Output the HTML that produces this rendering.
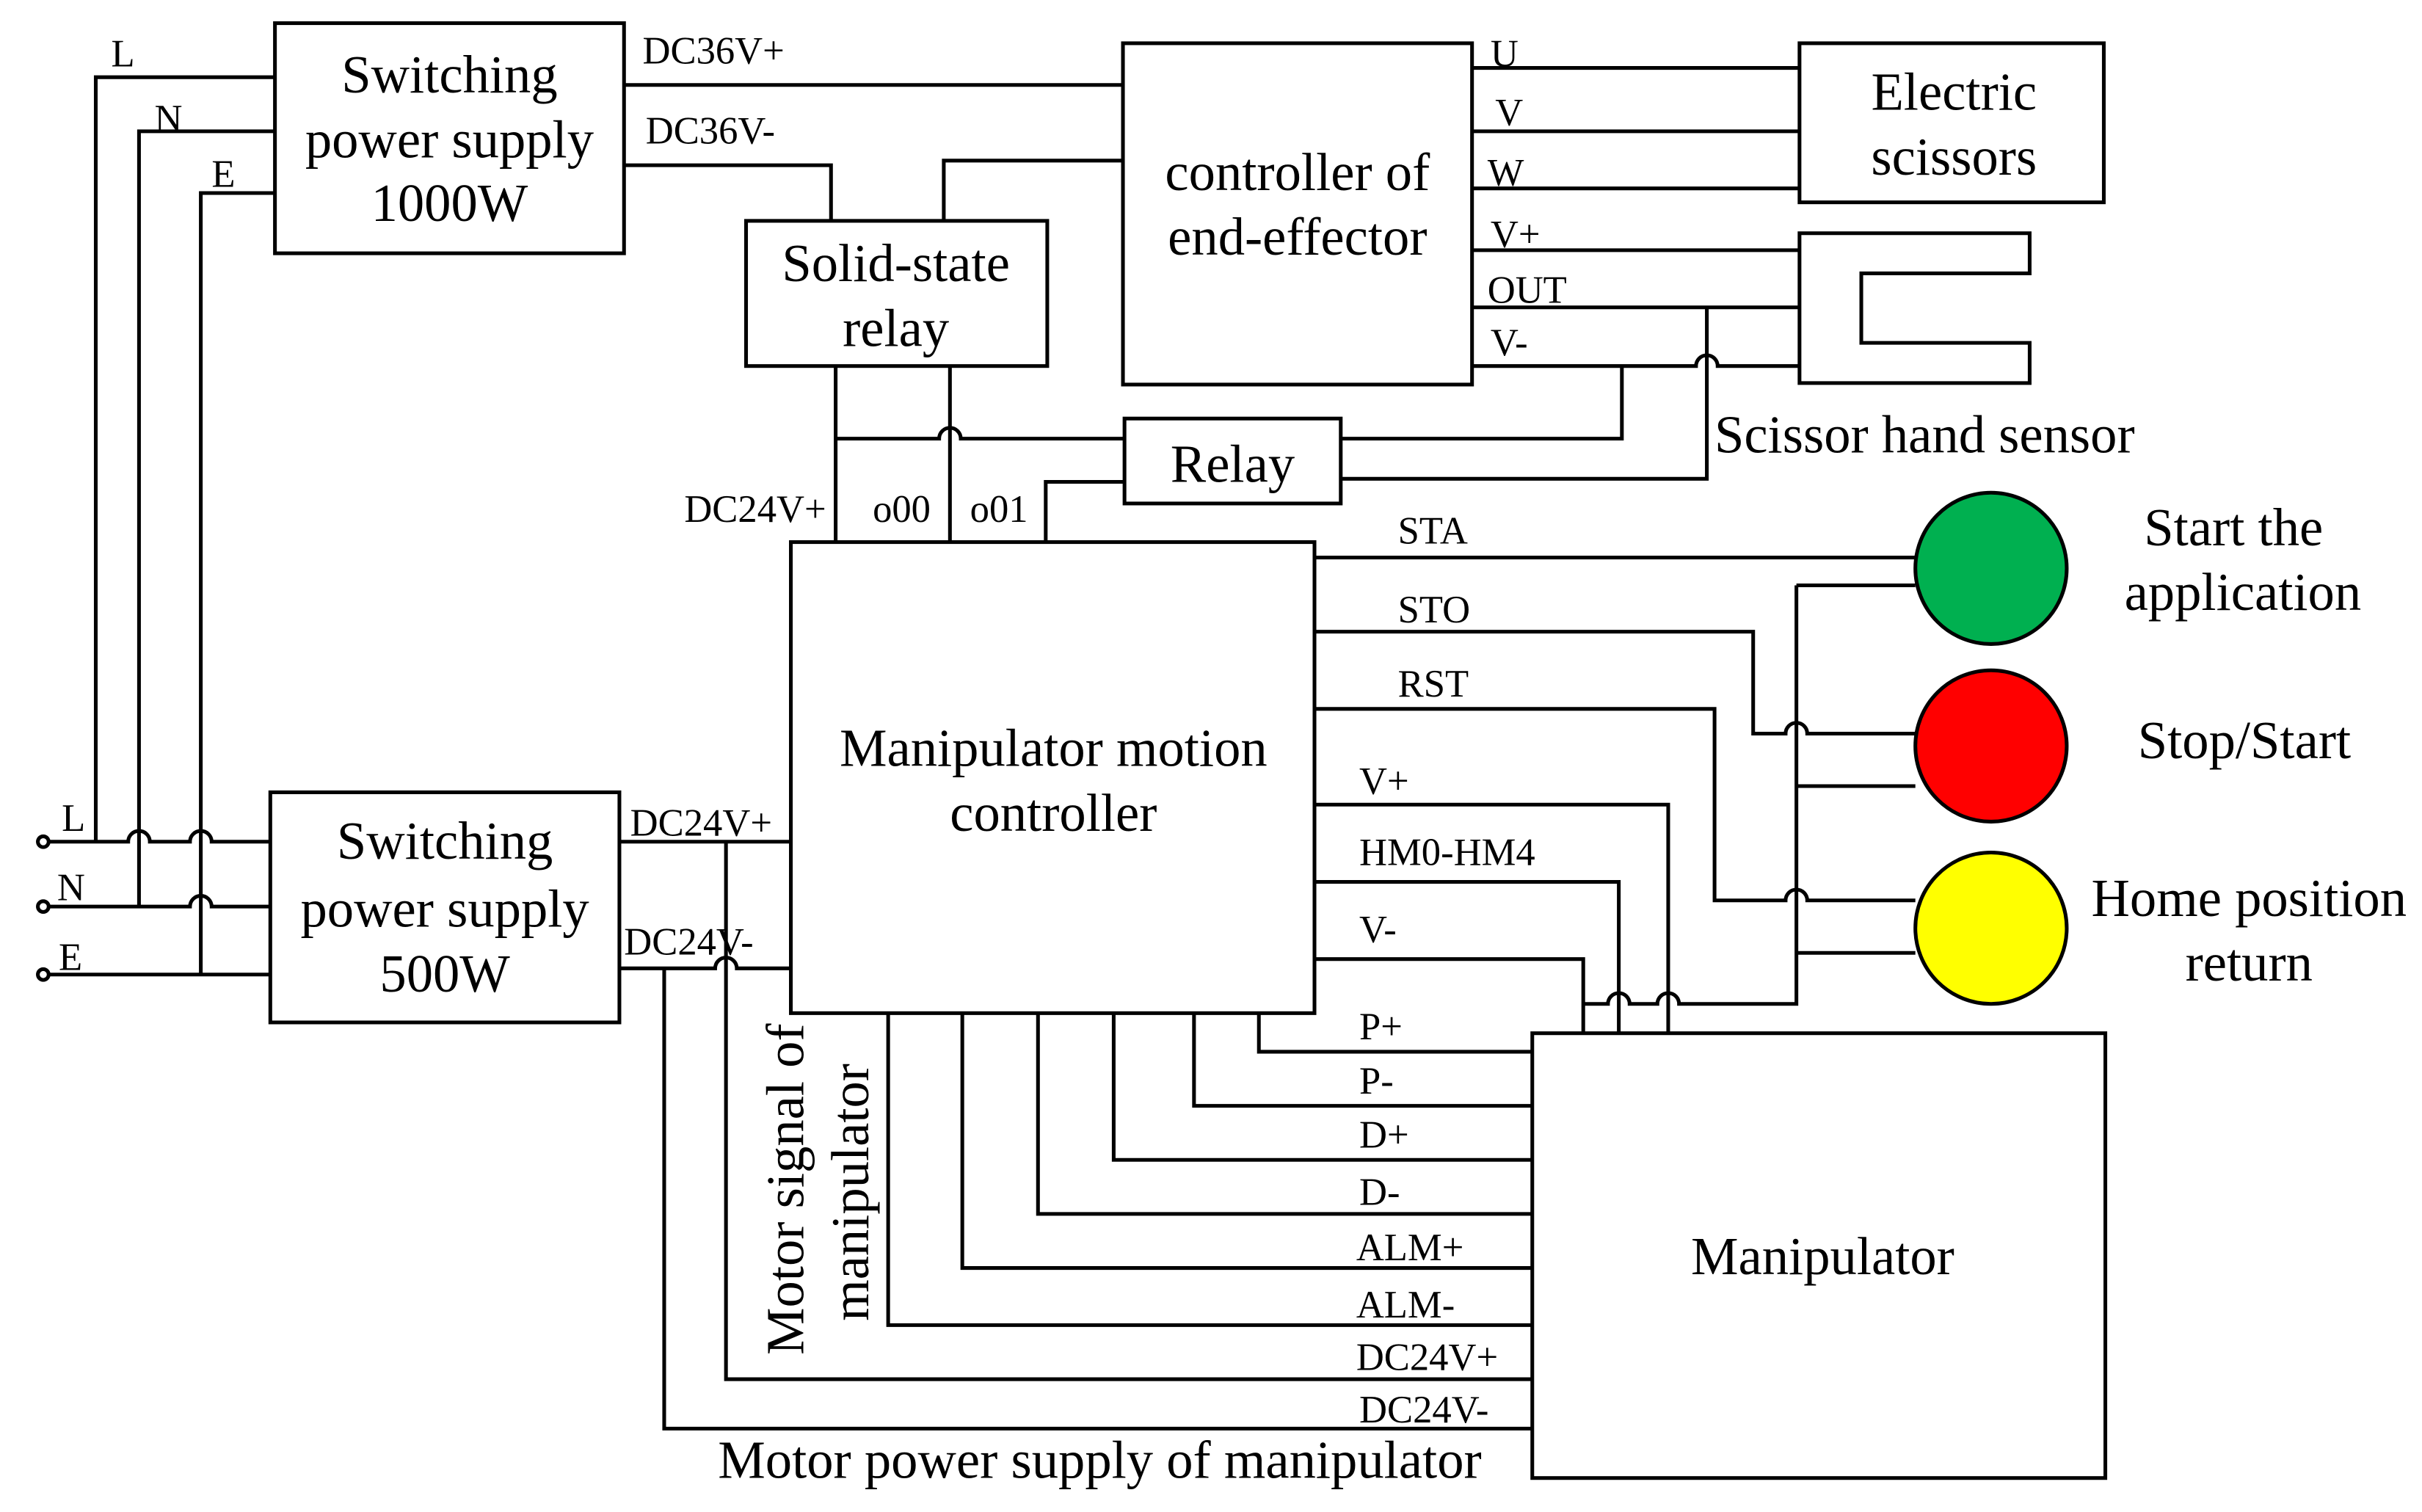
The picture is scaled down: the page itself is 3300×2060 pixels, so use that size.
<!DOCTYPE html>
<html><head><meta charset="utf-8"><style>html,body{margin:0;padding:0;background:#fff}svg{display:block}</style></head>
<body>
<svg width="3300" height="2060" viewBox="0 0 1568 979" preserveAspectRatio="none" xmlns="http://www.w3.org/2000/svg" font-family="Liberation Serif, serif">
<rect width="1568" height="979" fill="#fff"/>
<g fill="none" stroke="#000" stroke-width="2.4">
<rect x="178" y="15" width="226" height="149"/>
<rect x="175" y="513" width="226" height="149"/>
<rect x="483" y="143" width="195" height="94"/>
<rect x="727" y="28" width="226" height="221"/>
<rect x="1165" y="28" width="197" height="103"/>
<rect x="728" y="271" width="140" height="55"/>
<rect x="512" y="351" width="339" height="305"/>
<rect x="992" y="669" width="371" height="288"/>
<path d="M1165 151 H1314 V177 H1205 V222 H1314 V248 H1165 Z"/>
<path d="M178 50 H62 V545"/>
<path d="M178 85 H90 V587"/>
<path d="M178 125 H130 V631"/>
<circle cx="28" cy="545" r="3.5"/><circle cx="28" cy="587" r="3.5"/><circle cx="28" cy="631" r="3.5"/>
<path d="M31 545 H83 A7 7 0 0 1 97 545 H123 A7 7 0 0 1 137 545 H175"/>
<path d="M31 587 H123 A7 7 0 0 1 137 587 H175"/>
<path d="M31 631 H175"/>
<path d="M404 55 H727"/>
<path d="M404 107 H538 V143"/>
<path d="M611 143 V104 H727"/>
<path d="M953 44 H1165 M953 85 H1165 M953 122 H1165 M953 162 H1165 M953 199 H1165"/>
<path d="M953 237 H1098 A7 7 0 0 1 1112 237 H1165"/>
<path d="M541 237 V351"/>
<path d="M615 237 V351"/>
<path d="M541 284 H608 A7 7 0 0 1 622 284 H728"/>
<path d="M677 351 V312 H728"/>
<path d="M868 284 H1050 V237"/>
<path d="M868 310 H1105 V199"/>
<path d="M401 545 H512"/>
<path d="M401 627 H463 A7 7 0 0 1 477 627 H512"/>
<path d="M470 545 V893 H992"/>
<path d="M430 627 V925 H992"/>
<path d="M851 361 H1240"/>
<path d="M851 409 H1135 V475 H1156 A7 7 0 0 1 1170 475 H1240"/>
<path d="M851 459 H1110 V583 H1156 A7 7 0 0 1 1170 583 H1240"/>
<path d="M1163 379 V650 H1087 A7 7 0 0 0 1073 650 H1055 A7 7 0 0 0 1041 650 H1025"/>
<path d="M1163 379 H1240 M1163 509 H1240 M1163 617 H1240"/>
<path d="M851 521 H1080 V669"/>
<path d="M851 571 H1048 V669"/>
<path d="M851 621 H1025 V669"/>
<path d="M815 656 V681 H992"/>
<path d="M773 656 V716 H992"/>
<path d="M721 656 V751 H992"/>
<path d="M672 656 V786 H992"/>
<path d="M623 656 V821 H992"/>
<path d="M575 656 V858 H992"/>
</g>
<circle cx="1289" cy="368" r="49" fill="#00b050" stroke="#000" stroke-width="2.4"/>
<circle cx="1289" cy="483" r="49" fill="#ff0000" stroke="#000" stroke-width="2.4"/>
<circle cx="1289" cy="601" r="49" fill="#ffff00" stroke="#000" stroke-width="2.4"/>
<g font-size="34.5" text-anchor="middle" fill="#000">
<text x="291" y="60">Switching</text><text x="291" y="102">power supply</text><text x="291" y="143">1000W</text>
<text x="288" y="556">Switching</text><text x="288" y="600">power supply</text><text x="288" y="642">500W</text>
<text x="580" y="182">Solid-state</text><text x="580" y="224">relay</text>
<text x="840" y="123">controller of</text><text x="840" y="165">end-effector</text>
<text x="1265" y="71">Electric</text><text x="1265" y="113">scissors</text>
<text x="798" y="312">Relay</text>
<text x="682" y="496">Manipulator motion</text><text x="682" y="538">controller</text>
<text x="1180" y="825">Manipulator</text>
<text x="1446" y="353">Start the</text><text x="1452" y="395">application</text>
<text x="1453" y="491">Stop/Start</text>
<text x="1456" y="593">Home position</text><text x="1456" y="635">return</text>
<text x="712" y="957">Motor power supply of manipulator</text>
<text x="1246" y="293">Scissor hand sensor</text>
<text transform="translate(520,770) rotate(-90)">Motor signal of</text>
<text transform="translate(562,772) rotate(-90)">manipulator</text>
</g>
<g font-size="25" fill="#000">
<text x="72" y="43">L</text><text x="100" y="85">N</text><text x="137" y="121">E</text>
<text x="40" y="538">L</text><text x="37" y="583">N</text><text x="38" y="628">E</text>
<text x="416" y="41">DC36V+</text><text x="418" y="93">DC36V-</text>
<text x="408" y="541">DC24V+</text><text x="404" y="618">DC24V-</text>
<text x="443" y="338">DC24V+</text><text x="565" y="338">o00</text><text x="628" y="338">o01</text>
<text x="965" y="43">U</text><text x="968" y="81">V</text><text x="963" y="120">W</text>
<text x="965" y="160">V+</text><text x="963" y="196">OUT</text><text x="965" y="230">V-</text>
<text x="905" y="352">STA</text><text x="905" y="403">STO</text><text x="905" y="451">RST</text>
<text x="880" y="514">V+</text><text x="880" y="560">HM0-HM4</text><text x="880" y="610">V-</text>
<text x="880" y="673">P+</text><text x="880" y="708">P-</text><text x="880" y="743">D+</text><text x="880" y="780">D-</text>
<text x="878" y="816">ALM+</text><text x="878" y="853">ALM-</text><text x="878" y="887">DC24V+</text><text x="880" y="921">DC24V-</text>
</g>
</svg>
</body></html>
